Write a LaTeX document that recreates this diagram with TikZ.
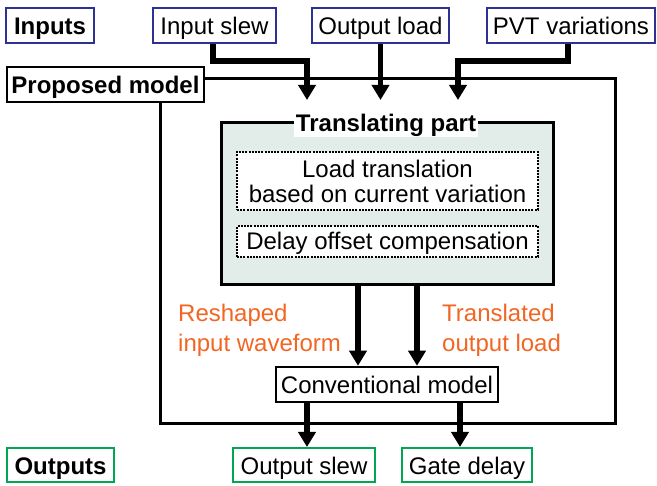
\documentclass[tikz,border=0pt]{standalone}
\usepackage{fontspec}
\setmainfont{Liberation Sans}
\usetikzlibrary{arrows.meta}
\definecolor{bluebox}{RGB}{46,49,146}
\definecolor{greenbox}{RGB}{0,166,81}
\definecolor{orangetxt}{RGB}{242,101,34}
\definecolor{transfill}{RGB}{226,236,232}
\tikzset{
  fnt/.style={font=\fontsize{24}{25}\selectfont},
  bfnt/.style={font=\fontsize{24}{25}\selectfont\bfseries},
  txt/.style={text height=19pt, text depth=0pt, inner sep=0pt, align=center},
  inbox/.style={txt, draw=bluebox, line width=2pt, minimum height=35pt},
  outbox/.style={txt, draw=greenbox, line width=2pt, minimum height=34pt},
  blkbox/.style={txt, draw=black, fill=white, line width=2.5pt, minimum height=35pt},
  dotbox/.style={draw=black, fill=white, line width=2.5pt, dash pattern=on 2pt off 1.2pt, inner sep=0pt, align=center},
  orangelbl/.style={text=orangetxt, align=left, inner sep=0pt, font=\fontsize{24}{30}\selectfont},
  flow/.style={line width=5.5pt, -{Triangle[width=17pt,length=15pt]}}
}
\begin{document}
\begin{tikzpicture}[x=1pt,y=-1pt]
\useasboundingbox (0,0) rectangle (657,486);
% inputs
\node[inbox, bfnt, minimum width=88pt] (inputs) at (50,25.5) {Inputs};
\node[inbox, fnt, minimum width=123pt] (islew) at (214.5,25.5) {Input slew};
\node[inbox, fnt, minimum width=137pt] (oload) at (380.5,25.5) {Output load};
\node[inbox, fnt, minimum width=168pt] (pvt) at (571,25.5) {PVT variations};
% outer model frame
\node[draw=black, line width=3pt, minimum width=455pt, minimum height=345pt, inner sep=0pt] (outer) at (387.5,251.5) {};
\node[blkbox, bfnt, minimum width=197pt] (proposed) at (105.5,84.5) {Proposed model};
% translating part
\node[draw=black, fill=transfill, line width=3pt, minimum width=332pt, minimum height=162pt, inner sep=0pt] (trans) at (387,204) {};
\node[bfnt, fill=white, inner sep=2pt, text height=19pt, text depth=3pt] (title) at (386,124) {Translating part};
\node[dotbox, fnt, minimum width=301pt, minimum height=58pt] (loadtr) at (387.5,181) {Load translation\\based on current variation};
\node[dotbox, fnt, minimum width=301pt, minimum height=31pt, text height=17pt, text depth=0pt] (delay) at (387.5,241.5) {Delay offset compensation};
% conventional model
\node[blkbox, fnt, minimum width=222pt] (conv) at (387,384.5) {Conventional model};
% outputs
\node[outbox, bfnt, minimum width=107pt] (outputs) at (60.5,465.5) {Outputs};
\node[outbox, fnt, minimum width=142pt] (oslew) at (304,465) {Output slew};
\node[outbox, fnt, minimum width=130pt] (gdelay) at (467,465) {Gate delay};
% labels
\node[orangelbl, anchor=base west] (reshaped) at (178,352) {Reshaped\\input waveform};
\node[orangelbl, anchor=base west] (translated) at (442,352) {Translated\\output load};
% arrow ends
\coordinate (a1) at (307,100);
\coordinate (a3) at (458,100);
% input arrows
\draw[flow] ([xshift=-1.5pt]islew.south) -- ++(0,17) -| (a1);
\draw[flow] (oload.south) -- (oload.south |- a1);
\draw[flow] ([xshift=-3pt]pvt.south) -- ++(0,17) -| (a3);
% internal arrows
\draw[flow] ([xshift=-29pt]trans.south) -- ([xshift=-29pt]conv.north);
\draw[flow] ([xshift=30pt]trans.south) -- ([xshift=30pt]conv.north);
% output arrows
\draw[flow] ([xshift=-80pt]conv.south) -- ([xshift=-80pt]conv.south |- oslew.north);
\draw[flow] ([xshift=73pt]conv.south) -- ([xshift=73pt]conv.south |- gdelay.north);
\end{tikzpicture}
\end{document}
